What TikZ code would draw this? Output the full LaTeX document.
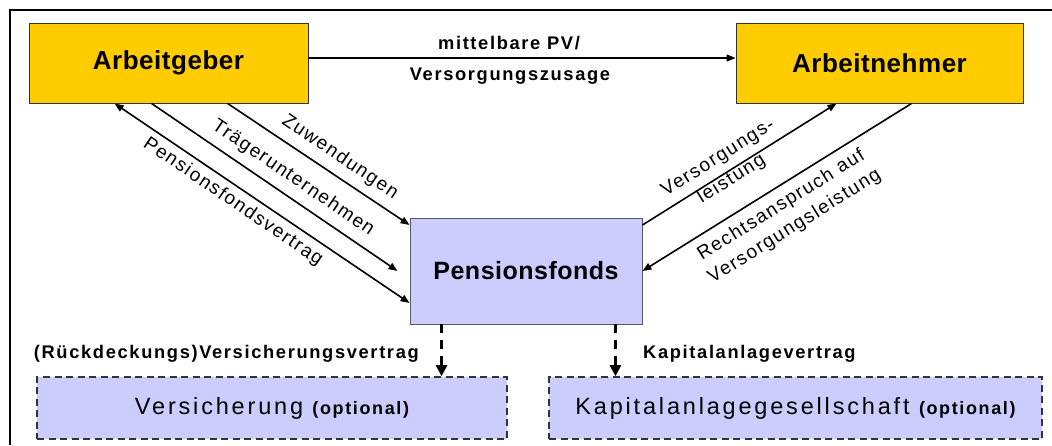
\documentclass[tikz,border=0pt]{standalone}
\usepackage{fontspec}
\setmainfont{Liberation Sans}
\newfontfamily\boxfont[LetterSpace=2]{Liberation Sans}
\newfontfamily\regfont[LetterSpace=12]{Liberation Sans}
\newfontfamily\lblfont[LetterSpace=9]{Liberation Sans}
\newfontfamily\rotfont[LetterSpace=8]{Liberation Sans}
\usetikzlibrary{arrows.meta,calc}
\definecolor{gold}{HTML}{FFCC00}
\definecolor{lav}{HTML}{CCCCFF}
\begin{document}
\begin{tikzpicture}[x=1pt,y=-1pt,
  ybox/.style={draw=black!80, line width=0.9pt, fill=gold, minimum height=80pt, inner sep=0pt,
    font=\boxfont\bfseries\fontsize{26}{30}\selectfont},
  pbox/.style={draw=black!65, line width=0.9pt, fill=lav, minimum width=232pt, minimum height=106pt, inner sep=0pt,
    font=\boxfont\bfseries\fontsize{25}{29}\selectfont},
  dbox/.style={draw=black!80, line width=1.6pt, dash pattern=on 7pt off 4.5pt, fill=lav, minimum height=62pt, inner sep=0pt,
    font=\regfont\fontsize{23.5}{27}\selectfont},
  arr/.style={line width=1.6pt, -{Triangle[length=9pt,width=7pt]}},
  arrb/.style={line width=1.6pt, {Triangle[length=9pt,width=7pt]}-{Triangle[length=9pt,width=7pt]}},
  darr/.style={line width=3pt, dash pattern=on 9pt off 7pt, -{Triangle[length=11pt,width=11pt]}},
  lbl/.style={inner sep=0pt, font=\lblfont\bfseries\fontsize{18.3}{21}\selectfont},
  rlbl/.style={inner sep=0pt, align=center, font=\rotfont\fontsize{19}{25}\selectfont}
]
\useasboundingbox (0,0) rectangle (1052,445);
\fill[white] (0,0) rectangle (1052,445);
% frame (cut off at right and bottom)
\draw[line width=1.8pt] (10,445) -- (10,10) -- (1052,10);

\node[ybox, minimum width=279pt] (ag) at (168.5,63) {Arbeitgeber};
\node[ybox, minimum width=287pt] (an) at (879.5,63) {Arbeitnehmer};
\node[pbox] (pf) at (526,271) {Pensionsfonds};
\node[dbox, minimum width=470pt] (vs) at (272,408) {Versicherung {\lblfont\bfseries\fontsize{18}{21}\selectfont (optional)}};
\node[dbox, minimum width=493pt] (ka) at (795.5,408) {Kapitalanlagegesellschaft {\lblfont\bfseries\fontsize{18}{21}\selectfont (optional)}};

% top connector
\draw[arr] ([yshift=5pt]ag.east) -- ([yshift=5pt]an.west);
\node[lbl] (l1) at (509,43) {mittelbare PV/};
\node[lbl] (l2) at (510,76) {Versorgungszusage};

% left diagonals
\draw[arrb] ([xshift=86pt]ag.south west) -- ([yshift=-32pt]pf.west);
\draw[arr] ([xshift=123pt]ag.south west) -- ([xshift=-12pt]pf.west);
\draw[arr] ([xshift=199pt]ag.south west) -- ([yshift=46pt]pf.west);
\node[rlbl, rotate=-34.3] (t1) at (233,202) {Pensionsfondsvertrag};
\node[rlbl, rotate=-34.2] (t2) at (293,178) {Trägerunternehmen};
\node[rlbl, rotate=-34.1] (t3) at (340,157) {Zuwendungen};

% right diagonals
\draw[arr] ([yshift=46pt]pf.east) -- ([xshift=101pt]an.south west);
\draw[arr] ([xshift=176pt]an.south west) -- (pf.east);
\node[rlbl, rotate=32.2] (t4) at (725,169) {Versorgungs-\\leistung};
\node[rlbl, rotate=32.0] (t5) at (788,216) {Rechtsanspruch auf\\Versorgungsleistung};

% dashed connectors
\coordinate (d1) at ($(pf.south west)+(32,0)$);
\coordinate (d2) at ($(pf.south east)+(-27,0)$);
\draw[darr] (d1) -- (d1 |- vs.north);
\draw[darr] (d2) -- (d2 |- ka.north);
\node[lbl, anchor=east] (l3) at (419,354) {(Rückdeckungs)Versicherungsvertrag};
\node[lbl, anchor=west] (l4) at (643,354) {Kapitalanlagevertrag};
\end{tikzpicture}
\end{document}
